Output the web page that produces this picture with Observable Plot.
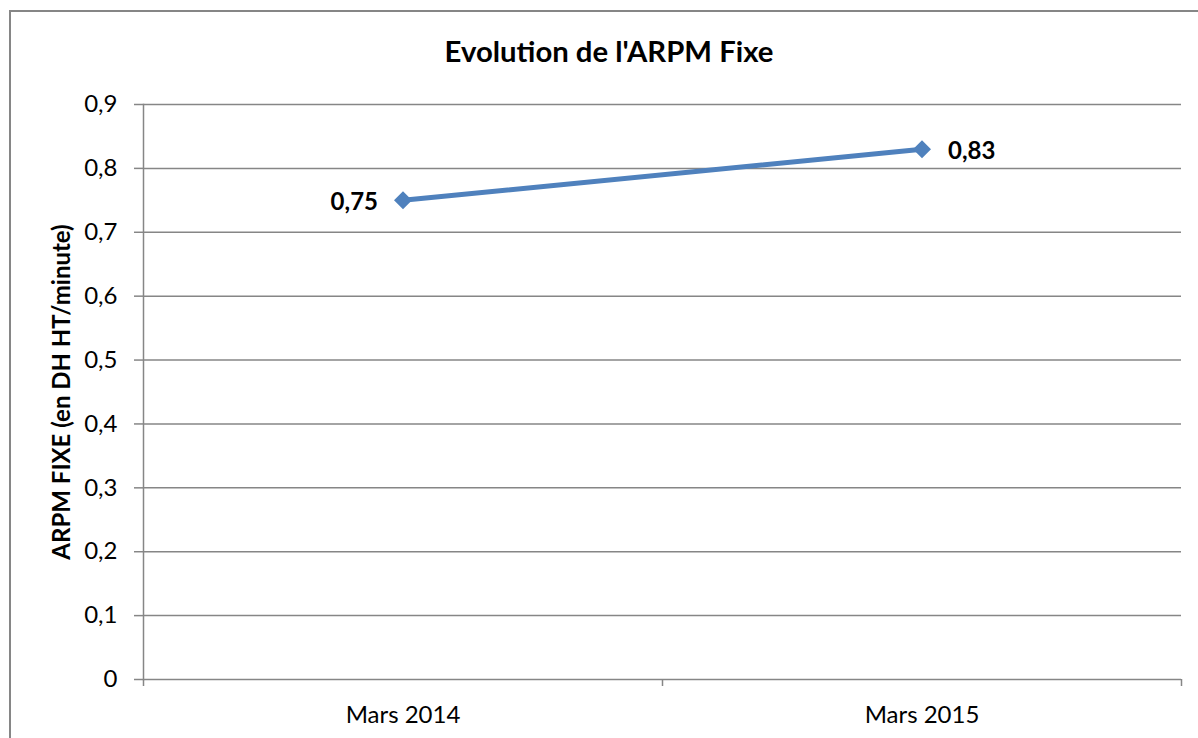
<!DOCTYPE html>
<html>
<head>
<meta charset="utf-8">
<script src="https://cdn.jsdelivr.net/npm/d3@7"></script>
<script src="https://cdn.jsdelivr.net/npm/@observablehq/plot@0.6"></script>
<style>
  html, body { margin: 0; padding: 0; background: #fff; }
  #wrap { position: relative; width: 1198px; height: 738px; overflow: hidden; font-family: Lato, "Open Sans", sans-serif; }
  #border { position: absolute; left: 9px; top: 10px; width: 1400px; height: 1000px; border-left: 2px solid #868686; border-top: 2px solid #868686; }
  #title { position: absolute; left: 9px; width: 1200px; top: 34px; text-align: center; font-weight: bold; font-size: 29.3px; line-height: 1.18; color: #000; }
  #chart { position: absolute; left: 0; top: 0; }
</style>
</head>
<body>
<div id="wrap">
  <div id="border"></div>
  <div id="title">Evolution de l'ARPM Fixe</div>
  <div id="chart"></div>
</div>
<script>
const categories = ["Mars 2014", "Mars 2015"];
const values = [0.75, 0.83];
const yTicks = [0, 0.1, 0.2, 0.3, 0.4, 0.5, 0.6, 0.7, 0.8, 0.9];
const yLabel = "ARPM FIXE (en DH HT/minute)";

const data = categories.map((c, i) => ({cat: c, value: values[i]}));
const fmt = d => String(Math.round(d * 100) / 100).replace(".", ",");

const W = 1198, H = 738;
const mL = 143, mR = 17, mT = 104, mB = 59;
const bw = (W - mL - mR) / categories.length;
const grid = "#868686";
const blue = "#4F81BD";

const chart = Plot.plot({
  width: W, height: H,
  marginLeft: mL, marginRight: mR, marginTop: mT, marginBottom: mB,
  style: {fontFamily: "Lato, 'Open Sans', sans-serif", fontSize: "24px", color: "#000", background: "transparent"},
  x: {type: "band", domain: categories, padding: 0, axis: null},
  y: {domain: [0, 0.9], axis: null},
  marks: [
    Plot.ruleY(yTicks, {stroke: grid, strokeWidth: 1.5}),
    Plot.frame({anchor: "left", stroke: grid, strokeWidth: 1.5}),
    Plot.axisY(yTicks, {tickSize: 9, tickPadding: 17, tickFormat: fmt, stroke: grid, strokeWidth: 1.5, fill: "#000", fontSize: 24, label: null}),
    Plot.text([yLabel], {frameAnchor: "left", textAnchor: "middle", rotate: -90, dx: -81, fontWeight: "bold", fontSize: 24, fill: "#000"}),
    Plot.axisX(categories, {tickSize: 0, tickPadding: 26, fontSize: 24, fill: "#000", label: null}),
    Plot.axisX(categories, {tickSize: 7, tickFormat: () => "", dx: -bw / 2, stroke: grid, strokeWidth: 1.5, label: null}),
    Plot.axisX([categories[categories.length - 1]], {tickSize: 7, tickFormat: () => "", dx: bw / 2, stroke: grid, strokeWidth: 1.5, label: null}),
    Plot.line(data, {x: "cat", y: "value", stroke: blue, strokeWidth: 5}),
    Plot.dot(data, {x: "cat", y: "value", symbol: "square", r: 7.2, rotate: 45, fill: blue, stroke: "none"}),
    Plot.text(data, {filter: (d, i) => i === 0, x: "cat", y: "value", text: d => fmt(d.value), textAnchor: "end", dx: -25, dy: 2, fontWeight: "bold", fontSize: 24, fill: "#000"}),
    Plot.text(data, {filter: (d, i) => i === 1, x: "cat", y: "value", text: d => fmt(d.value), textAnchor: "start", dx: 26, dy: 2, fontWeight: "bold", fontSize: 24, fill: "#000"})
  ]
});
document.getElementById("chart").appendChild(chart);
</script>
</body>
</html>
